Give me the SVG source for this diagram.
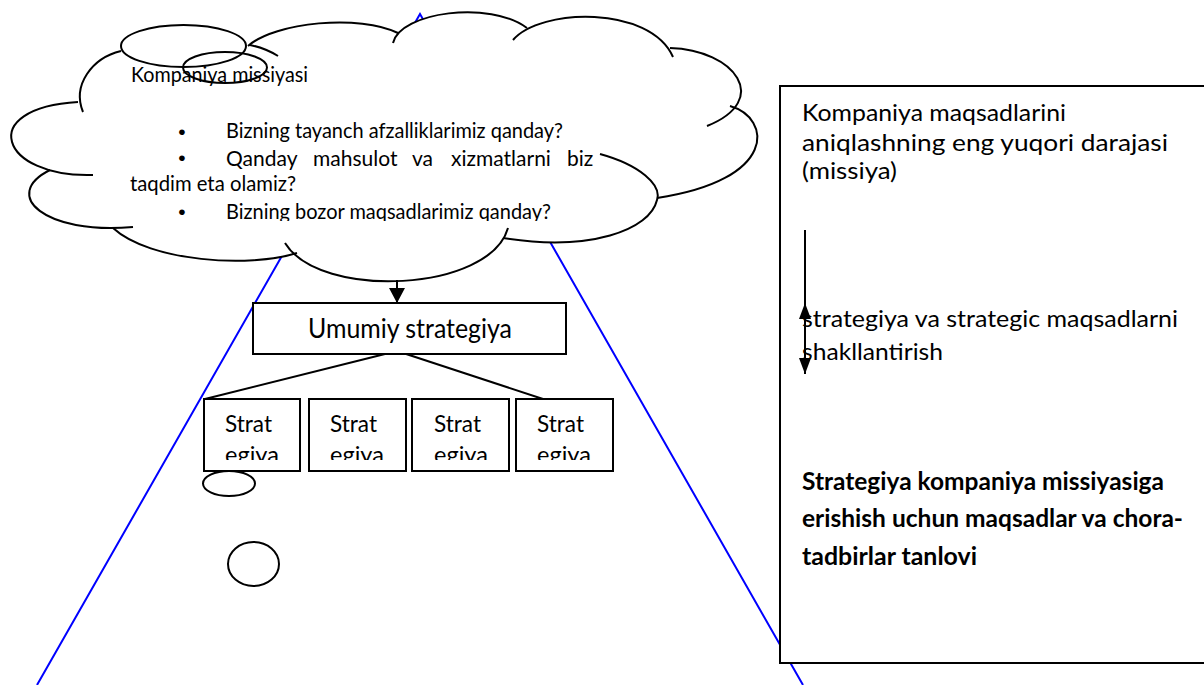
<svg xmlns="http://www.w3.org/2000/svg" width="1204" height="685" viewBox="0 0 1204 685">
  <style>
    .t { font-family: Lato, "Open Sans", "Liberation Sans", sans-serif; fill: #000; }
    .cloud-txt { font-size: 21px; }
    .panel-txt { font-size: 24px; }
    .title-txt { font-size: 26px; }
    .box-txt { font-size: 23.5px; }
    .bold { font-weight: bold; }
    .bullet { font-family: "Liberation Sans", Arial, sans-serif; font-size: 21px; text-anchor: middle; }
    .ink { fill: none; stroke: #000; stroke-width: 2; }
    .box { fill: #fff; stroke: #000; stroke-width: 2; }
    .blue { fill: none; stroke: #0000ff; stroke-width: 2; }
  </style>
  <defs>
    <marker id="head" markerUnits="userSpaceOnUse" viewBox="0 0 15 16" refX="15" refY="8" markerWidth="15" markerHeight="16" orient="auto">
      <path d="M0,0 L15,8 L0,16 z" fill="#000"/>
    </marker>
    <marker id="head-sm" markerUnits="userSpaceOnUse" viewBox="0 0 16 12" refX="16" refY="6" markerWidth="16" markerHeight="12" orient="auto">
      <path d="M0,0 L16,6 L0,12 z" fill="#000"/>
    </marker>
    <clipPath id="clip-last-line"><rect x="0" y="190" width="700" height="31"/></clipPath>
    <clipPath id="clip-box-line"><rect x="0" y="380" width="700" height="80"/></clipPath>
  </defs>

  <rect width="1204" height="685" fill="#fff"/>

  <!-- pyramid outline -->
  <g id="pyramid">
    <path class="blue" d="M37,685 L420,14 L803,685"/>
  </g>

  <!-- mission cloud -->
  <g id="mission-cloud">
    <path fill="#fff" stroke="none" d="M83,112 C72,85 92,58 121,51 L121,47 A62.5,21 0 0 1 246,46 L248,46 C275,22 360,14 398,33 L393,43 C400,12 490,0 527,28 L513,40 C540,8 650,5 673,57 L670,48 C735,50 772,100 734,108 L730,106 C772,118 778,180 657,198 L657,200 C650,230 590,252 503,238 L504,237 C490,292 320,300 291,251 L297,253 C250,268 150,262 113,228 C45,235 0,195 47,170 C0,178 -25,108 78,102 Z"/>
    <polygon fill="#fff" points="100,110 250,50 400,35 520,35 670,60 720,110 700,180 600,230 400,270 290,245 120,220 40,170"/>
    <path class="ink" d="M83,112 C72,85 92,58 121,51"/>
    <path class="ink" d="M250,45 Q265,48 278,56"/>
    <path class="ink" d="M248,46 C275,22 360,14 398,33"/>
    <path class="ink" d="M393,43 C400,12 490,0 527,28"/>
    <path class="ink" d="M513,40 C540,8 650,5 673,57"/>
    <path class="ink" d="M670,48 C735,50 772,100 707,126"/>
    <path class="ink" d="M730,106 C772,118 778,180 657,198"/>
    <path class="ink" d="M600,154 C640,165 662,185 657,200 C650,230 590,252 503,238"/>
    <path class="ink" d="M508,228 C490,292 320,300 285,243"/>
    <path class="ink" d="M297,253 C250,268 150,262 113,228"/>
    <path class="ink" d="M133,227 C45,235 0,195 50,170"/>
    <path class="ink" d="M93,175 C0,178 -25,108 78,102"/>
    <ellipse class="ink" cx="183.5" cy="46" rx="62.5" ry="21"/>
    <ellipse class="ink" cx="225" cy="67.5" rx="42" ry="15.5"/>

    <text class="t cloud-txt" x="131" y="82" textLength="177" lengthAdjust="spacingAndGlyphs">Kompaniya missiyasi</text>
    <text class="bullet" x="182" y="139">•</text>
    <text class="bullet" x="182" y="165">•</text>
    <text class="bullet" x="182" y="219">•</text>
    <text class="t cloud-txt" x="226" y="138" textLength="337" lengthAdjust="spacingAndGlyphs">Bizning tayanch afzalliklarimiz qanday?</text>
    <text class="t cloud-txt" y="166"><tspan x="226">Qanday</tspan><tspan x="313">mahsulot</tspan><tspan x="412">va</tspan><tspan x="451">xizmatlarni</tspan><tspan x="567">biz</tspan></text>
    <text class="t cloud-txt" x="130" y="191" textLength="166" lengthAdjust="spacingAndGlyphs">taqdim eta olamiz?</text>
    <g clip-path="url(#clip-last-line)">
      <text class="t cloud-txt" x="226" y="219" textLength="325" lengthAdjust="spacingAndGlyphs">Bizning bozor maqsadlarimiz qanday?</text>
    </g>
  </g>

  <!-- connectors -->
  <g id="connectors">
    <line class="ink" x1="397" y1="280" x2="397" y2="303" marker-end="url(#head)"/>
    <line class="ink" x1="397" y1="351" x2="205" y2="399"/>
    <line class="ink" x1="397" y1="351" x2="543" y2="399"/>
  </g>

  <!-- general strategy -->
  <g id="general-strategy">
    <rect class="box" x="253" y="303" width="313" height="51"/>
    <text class="t title-txt" x="308" y="338" textLength="204" lengthAdjust="spacingAndGlyphs">Umumiy strategiya</text>
  </g>

  <!-- partial strategies -->
  <g id="strategy-1">
    <rect class="box" x="204" y="399" width="96" height="72"/>
    <text class="t box-txt" x="225" y="432" textLength="47" lengthAdjust="spacingAndGlyphs">Strat</text>
    <text class="t box-txt" x="225" y="463" clip-path="url(#clip-box-line)">egiya</text>
  </g>
  <g id="strategy-2">
    <rect class="box" x="309" y="399" width="97" height="72"/>
    <text class="t box-txt" x="330" y="432" textLength="47" lengthAdjust="spacingAndGlyphs">Strat</text>
    <text class="t box-txt" x="330" y="463" clip-path="url(#clip-box-line)">egiya</text>
  </g>
  <g id="strategy-3">
    <rect class="box" x="412" y="399" width="97" height="72"/>
    <text class="t box-txt" x="434" y="432" textLength="47" lengthAdjust="spacingAndGlyphs">Strat</text>
    <text class="t box-txt" x="434" y="463" clip-path="url(#clip-box-line)">egiya</text>
  </g>
  <g id="strategy-4">
    <rect class="box" x="516" y="399" width="97" height="72"/>
    <text class="t box-txt" x="537" y="432" textLength="47" lengthAdjust="spacingAndGlyphs">Strat</text>
    <text class="t box-txt" x="537" y="463" clip-path="url(#clip-box-line)">egiya</text>
  </g>

  <!-- small bubbles below -->
  <g id="bubbles">
    <ellipse class="ink" cx="229" cy="483.5" rx="26" ry="12.5"/>
    <ellipse class="ink" cx="253.5" cy="564" rx="25.5" ry="22"/>
  </g>

  <!-- explanation panel -->
  <g id="levels-panel">
    <rect class="box" x="780" y="86" width="450" height="577"/>
    <text class="t panel-txt" x="802" y="121" textLength="264" lengthAdjust="spacingAndGlyphs">Kompaniya maqsadlarini</text>
    <text class="t panel-txt" x="802" y="151" textLength="366" lengthAdjust="spacingAndGlyphs">aniqlashning eng yuqori darajasi</text>
    <text class="t panel-txt" x="802" y="179" textLength="95" lengthAdjust="spacingAndGlyphs">(missiya)</text>
    <text class="t panel-txt" x="802" y="327" textLength="376" lengthAdjust="spacingAndGlyphs">strategiya va strategic maqsadlarni</text>
    <text class="t panel-txt" x="802" y="360" textLength="141" lengthAdjust="spacingAndGlyphs">shakllantirish</text>
    <text class="t panel-txt bold" x="802" y="490" textLength="362" lengthAdjust="spacingAndGlyphs">Strategiya kompaniya missiyasiga</text>
    <text class="t panel-txt bold" x="802" y="527" textLength="381" lengthAdjust="spacingAndGlyphs">erishish uchun maqsadlar va chora-</text>
    <text class="t panel-txt bold" x="802" y="565" textLength="175" lengthAdjust="spacingAndGlyphs">tadbirlar tanlovi</text>
    <line class="ink" x1="805" y1="230" x2="805" y2="374" marker-end="url(#head-sm)"/>
    <line class="ink" x1="805" y1="340" x2="805" y2="303" marker-end="url(#head-sm)"/>
  </g>
</svg>
